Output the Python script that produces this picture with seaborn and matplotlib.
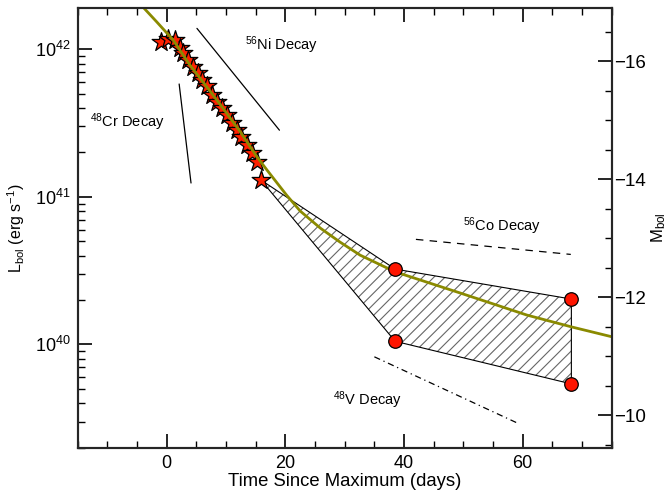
import numpy as np
import matplotlib
matplotlib.use('Agg')
import matplotlib.pyplot as plt
import seaborn as sns
import pandas as pd

# early bolometric light curve (stars)
star_days = [-1.0, 0.3, 1.4, 2.2, 2.8, 3.6, 4.5, 5.3, 5.9, 6.8, 7.6, 8.4,
             9.3, 10.1, 11.0, 11.8, 12.6, 13.5, 14.3, 15.2, 15.9]
star_lum = [1.13e42, 1.17e42, 1.16e42, 1.02e42, 9.4e41, 8.5e41, 7.6e41,
            6.9e41, 6.2e41, 5.6e41, 4.9e41, 4.4e41, 3.98e41, 3.59e41,
            3.15e41, 2.84e41, 2.55e41, 2.24e41, 1.97e41, 1.73e41, 1.30e41]

# late-time limits (circles)
late_days = [38.5, 68.2]
late_hi = [3.24e40, 2.03e40]
late_lo = [1.05e40, 5.4e39]

# model light curve
model_days = [-3.8, -1.7, 1.1, 3.9, 6.75, 9.5, 12.4, 15.2, 16.9, 20.2,
              22.5, 25.9, 29.2, 32.6, 38.5, 49.5, 60.7, 68.2, 75.0]
model_lum = [10**42.278, 10**42.187, 10**42.063, 10**41.894, 10**41.746,
             10**41.600, 10**41.441, 10**41.272, 10**41.182, 10**41.012,
             10**40.904, 10**40.788, 10**40.694, 10**40.605, 10**40.492,
             10**40.348, 10**40.199, 10**40.119, 10**40.052]

# decay slope guides: (t0, L0, t1, L1)
cr_decay = [2.1, 10**41.765, 4.1, 10**41.094]
ni_decay = [5.1, 10**42.142, 19.0, 10**41.452]
co_decay = [42.0, 10**40.712, 68.1, 10**40.610]
v_decay = [35.0, 10**39.916, 59.0, 10**39.469]

labels = [(r'$^{48}$Cr Decay', -12.9, 10**41.507),
          (r'$^{56}$Ni Decay', 13.2, 10**42.03),
          (r'$^{56}$Co Decay', 50.0, 10**40.80),
          (r'$^{48}$V Decay', 28.0, 10**39.62)]

MAG_ZP = 88.8
ymin, ymax = 10**39.30, 10**42.278

sns.set_style('ticks')
plt.rcParams['font.family'] = ['Liberation Sans', 'DejaVu Sans']
plt.rcParams['mathtext.default'] = 'regular'
plt.rcParams['hatch.color'] = '#666666'
plt.rcParams['hatch.linewidth'] = 0.8
plt.rcParams['text.color'] = 'black'
plt.rcParams['xtick.color'] = 'black'
plt.rcParams['ytick.color'] = 'black'
plt.rcParams['axes.labelcolor'] = 'black'

fig = plt.figure(figsize=(6.72, 4.98), dpi=100)
ax = fig.add_axes([0.1156, 0.101, 0.7947, 0.8823])

# hatched region between late limits
poly_x = [star_days[-1], late_days[0], late_days[1], late_days[1], late_days[0]]
poly_y = [star_lum[-1], late_hi[0], late_hi[1], late_lo[1], late_lo[0]]
ax.fill(poly_x, poly_y, facecolor='none', edgecolor='#666666', hatch='///', linewidth=0, zorder=1)
ax.fill(poly_x, poly_y, facecolor='none', edgecolor='black', linewidth=0.8, zorder=2)

stars = pd.DataFrame({'t': star_days, 'L': star_lum})
sns.scatterplot(data=stars, x='t', y='L', marker='*', s=200, color='#ff2000',
                edgecolor='black', linewidth=0.9, ax=ax, zorder=3)

model = pd.DataFrame({'t': model_days, 'L': model_lum})
sns.lineplot(data=model, x='t', y='L', color='#8a8a00', linewidth=2.0, sort=False, ax=ax, zorder=4)

late = pd.DataFrame({'t': late_days + late_days, 'L': late_hi + late_lo})
sns.scatterplot(data=late, x='t', y='L', marker='o', s=95, color='#ff1500',
                edgecolor='black', linewidth=0.9, ax=ax, zorder=5)

ax.plot(cr_decay[0::2], cr_decay[1::2], color='black', lw=0.9)
ax.plot(ni_decay[0::2], ni_decay[1::2], color='black', lw=0.9)
ax.plot(co_decay[0::2], co_decay[1::2], color='black', lw=0.9, ls=(0, (6, 5)))
ax.plot(v_decay[0::2], v_decay[1::2], color='black', lw=0.9, ls=(0, (5, 3, 1, 3)))

for txt, tx, ty in labels:
    ax.text(tx, ty, txt, fontsize=10.5, va='center', ha='left')

ax.set_yscale('log')
ax.set_xlim(-15, 75)
ax.set_ylim(ymin, ymax)
ax.set_xticks([0, 20, 40, 60])
ax.set_xticks(np.arange(-15, 76, 5), minor=True)
ax.set_xlabel('Time Since Maximum (days)', fontsize=13.3, labelpad=1)
ax.set_ylabel(r'L$_{bol}$ (erg s$^{-1}$)', fontsize=11.5, labelpad=6)
ax.tick_params(axis='x', which='both', direction='in', top=True, labelsize=13, pad=5)
ax.tick_params(axis='y', which='both', direction='in', right=False, labelsize=13, pad=5)
ax.tick_params(which='major', length=10, width=1.2)
ax.tick_params(which='minor', length=5, width=1.0)

ax2 = ax.twinx()
ax2.set_ylim(MAG_ZP - 2.5 * np.log10(ymin), MAG_ZP - 2.5 * np.log10(ymax))
ax2.set_yticks([-16, -14, -12, -10])
ax2.set_yticks(np.arange(-16.5, -9.4, 0.5), minor=True)
ax2.set_yticklabels(['\u221216', '\u221214', '\u221212', '\u221210'])
ax2.tick_params(axis='y', which='both', direction='in', labelsize=13.5, pad=2)
ax2.tick_params(which='major', length=10, width=1.2)
ax2.tick_params(which='minor', length=5, width=1.0)
ax2.set_ylabel(r'M$_{bol}$', fontsize=12, labelpad=2)

for a in (ax, ax2):
    for sp in a.spines.values():
        sp.set_linewidth(1.5)
        sp.set_visible(True)

fig.savefig('out.png', dpi=100)
